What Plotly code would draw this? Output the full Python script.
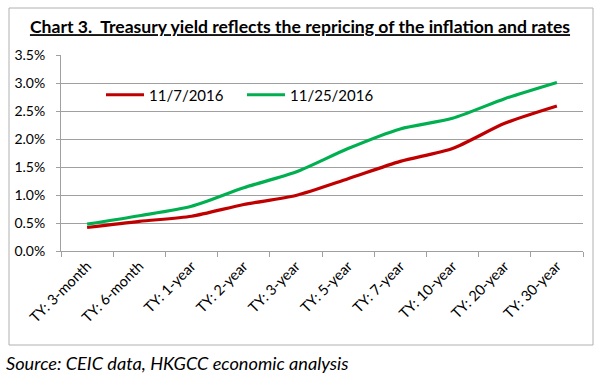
import plotly.graph_objects as go

categories = ["TY: 3-month", "TY: 6-month", "TY: 1-year", "TY: 2-year", "TY: 3-year",
              "TY: 5-year", "TY: 7-year", "TY: 10-year", "TY: 20-year", "TY: 30-year"]
yield_nov7 = [0.42, 0.53, 0.62, 0.83, 0.99, 1.29, 1.60, 1.83, 2.28, 2.59]
yield_nov25 = [0.48, 0.63, 0.80, 1.13, 1.41, 1.83, 2.18, 2.37, 2.72, 3.01]
y_ticks = [0.0, 0.5, 1.0, 1.5, 2.0, 2.5, 3.0, 3.5]
y_tick_labels = [f"{v:.1f}%" for v in y_ticks]

FONT = "Lato"
L, R, T, B = 61, 583, 55, 251
W, H = 600, 378
pw, ph = R - L, B - T

def px2x(px):
    return (px - L) / pw

def px2y(py):
    return (B - py) / ph

fig = go.Figure()
fig.add_trace(go.Scatter(x=categories, y=yield_nov7, mode="lines", name="11/7/2016",
                         line=dict(color="#C00000", width=3.2, shape="spline", smoothing=0.7)))
fig.add_trace(go.Scatter(x=categories, y=yield_nov25, mode="lines", name="11/25/2016",
                         line=dict(color="#00B050", width=3.2, shape="spline", smoothing=0.7)))

fig.update_layout(
    width=W, height=H,
    margin=dict(l=L, r=W - R, t=T, b=H - B),
    paper_bgcolor="white", plot_bgcolor="white",
    font=dict(family=FONT, size=13, color="black"),
    title=dict(text="<u>Chart 3.  Treasury yield reflects the repricing of the inflation and rates</u>",
               x=0.5, xref="container", xanchor="center",
               y=1 - 27 / H, yref="container", yanchor="middle",
               font=dict(family=FONT, size=17.6, color="black", weight="bold")),
    showlegend=True,
    legend=dict(orientation="h", x=px2x(101), xanchor="left", y=px2y(95), yanchor="middle",
                font=dict(family=FONT, size=15, color="black"),
                bgcolor="rgba(0,0,0,0)", entrywidth=88, entrywidthmode="pixels",
                itemwidth=38, tracegroupgap=0),
)
fig.update_xaxes(type="category", range=[-0.5, 9.5], tickangle=-45,
                 showline=True, linecolor="#A0A0A0", linewidth=1,
                 ticks="outside", tickson="boundaries", ticklen=5, tickcolor="#A0A0A0",
                 showgrid=False, tickfont=dict(family=FONT, size=14.5, color="black"))
fig.update_yaxes(range=[0, 3.5], tickmode="array", tickvals=y_ticks, ticktext=y_tick_labels,
                 showline=True, linecolor="#A0A0A0", linewidth=1,
                 ticks="outside", ticklen=4, tickcolor="#A0A0A0", tickwidth=1,
                 showgrid=True, gridcolor="#A0A0A0", gridwidth=1, zeroline=False,
                 ticklabelstandoff=8,
                 tickfont=dict(family=FONT, size=14, color="black"))

fig.add_shape(type="rect", xref="paper", yref="paper",
              x0=px2x(9), x1=px2x(593), y0=px2y(345), y1=px2y(8),
              line=dict(color="#B0B0B0", width=1), fillcolor="rgba(0,0,0,0)", layer="above")

fig.add_annotation(text="<i>Source: CEIC data, HKGCC economic analysis</i>",
                   xref="paper", yref="paper", x=px2x(4), y=px2y(363),
                   xanchor="left", yanchor="middle", showarrow=False,
                   font=dict(family=FONT, size=18.2, color="black"))

fig.write_html("out.html", config={"displayModeBar": False},
               post_script="document.body.style.margin='0';document.body.style.overflow='hidden';")
